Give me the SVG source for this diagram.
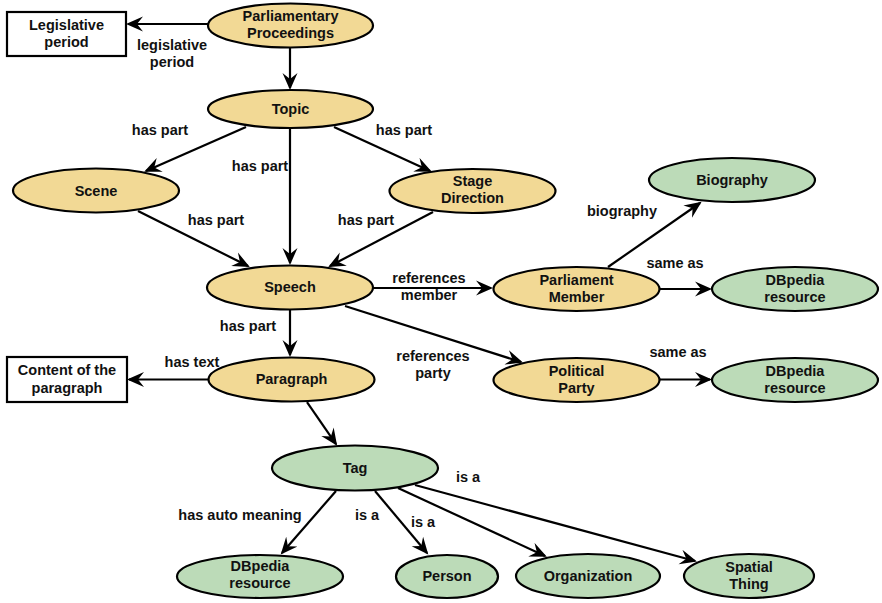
<svg xmlns="http://www.w3.org/2000/svg" width="882" height="603" viewBox="0 0 882 603">
  <style>
    text { font-family: "Liberation Sans", Arial, Helvetica, sans-serif; font-weight: bold; font-size: 14.5px; fill: #111; text-anchor: middle; }
    .doc { fill: #F2D995; stroke: #000; stroke-width: 2.2; }
    .ext { fill: #BCDBB8; stroke: #000; stroke-width: 2.2; }
    .lit { fill: #fff; stroke: #000; stroke-width: 2.2; }
    .edge { fill: none; stroke: #000; stroke-width: 2.2; marker-end: url(#arrow); }
  </style>
  <defs>
    <!-- barbed arrowhead with a notched back -->
    <marker id="arrow" markerUnits="userSpaceOnUse" markerWidth="18" markerHeight="16" refX="15" refY="8" orient="auto">
      <path d="M0,0.5 L17,8 L0,15.5 L6,8 Z" fill="#000"/>
    </marker>
  </defs>
  <rect width="882" height="603" fill="#fff"/>

  <!-- connectors -->
  <g id="edges">
    <line class="edge" x1="208" y1="24" x2="128" y2="24"/>
    <line class="edge" x1="290" y1="48" x2="290" y2="88"/>
    <line class="edge" x1="246" y1="127" x2="146" y2="171"/>
    <line class="edge" x1="334" y1="127" x2="430" y2="171"/>
    <line class="edge" x1="290" y1="128" x2="290" y2="263"/>
    <line class="edge" x1="138" y1="211" x2="248" y2="266"/>
    <line class="edge" x1="433" y1="212" x2="330" y2="266"/>
    <line class="edge" x1="373" y1="288" x2="491" y2="288"/>
    <line class="edge" x1="345" y1="306" x2="521" y2="362"/>
    <line class="edge" x1="608" y1="267" x2="700" y2="203"/>
    <line class="edge" x1="660" y1="289" x2="710" y2="289"/>
    <line class="edge" x1="660" y1="379.5" x2="710" y2="379.5"/>
    <line class="edge" x1="290" y1="309" x2="290" y2="355"/>
    <line class="edge" x1="208" y1="379.5" x2="129" y2="379.5"/>
    <line class="edge" x1="307" y1="402" x2="336" y2="444"/>
    <line class="edge" x1="336" y1="491" x2="282" y2="553"/>
    <line class="edge" x1="375" y1="491" x2="427" y2="553"/>
    <line class="edge" x1="398" y1="488" x2="545" y2="556"/>
    <line class="edge" x1="415" y1="485" x2="695" y2="561"/>
  </g>

  <!-- connector labels -->
  <g id="edge-labels">
    <text x="172" y="50">legislative</text>
    <text x="172" y="67">period</text>
    <text x="160" y="135">has part</text>
    <text x="404" y="135">has part</text>
    <text x="260" y="171">has part</text>
    <text x="216" y="225">has part</text>
    <text x="366" y="225">has part</text>
    <text x="622" y="216">biography</text>
    <text x="675" y="268">same as</text>
    <text x="429" y="283">references</text>
    <text x="429" y="300">member</text>
    <text x="433" y="361">references</text>
    <text x="433" y="378">party</text>
    <text x="678" y="357">same as</text>
    <text x="248" y="331">has part</text>
    <text x="192" y="367">has text</text>
    <text x="240" y="520">has auto meaning</text>
    <text x="367" y="520">is a</text>
    <text x="423" y="527">is a</text>
    <text x="468" y="482">is a</text>
  </g>

  <!-- nodes -->
  <g id="legislative-period">
    <rect class="lit" x="7" y="12" width="119" height="44"/>
    <text x="66.5" y="29.5">Legislative</text>
    <text x="66.5" y="46.5">period</text>
  </g>
  <g id="parliamentary-proceedings">
    <ellipse class="doc" cx="290.5" cy="25.5" rx="82.5" ry="22"/>
    <text x="290.5" y="21">Parliamentary</text>
    <text x="290.5" y="38">Proceedings</text>
  </g>
  <g id="topic">
    <ellipse class="doc" cx="290.5" cy="109" rx="82.5" ry="19"/>
    <text x="290.5" y="114">Topic</text>
  </g>
  <g id="scene">
    <ellipse class="doc" cx="96" cy="190.5" rx="83" ry="22"/>
    <text x="96" y="195.5">Scene</text>
  </g>
  <g id="stage-direction">
    <ellipse class="doc" cx="472.5" cy="191" rx="83" ry="22"/>
    <text x="472.5" y="186">Stage</text>
    <text x="472.5" y="203">Direction</text>
  </g>
  <g id="speech">
    <ellipse class="doc" cx="290" cy="287.5" rx="83" ry="22"/>
    <text x="290" y="292">Speech</text>
  </g>
  <g id="parliament-member">
    <ellipse class="doc" cx="576.5" cy="289" rx="83" ry="22"/>
    <text x="576.5" y="285">Parliament</text>
    <text x="576.5" y="302">Member</text>
  </g>
  <g id="biography">
    <ellipse class="ext" cx="732" cy="180" rx="83" ry="22"/>
    <text x="732" y="185">Biography</text>
  </g>
  <g id="dbpedia-member">
    <ellipse class="ext" cx="795" cy="289" rx="83" ry="22"/>
    <text x="795" y="285">DBpedia</text>
    <text x="795" y="302">resource</text>
  </g>
  <g id="political-party">
    <ellipse class="doc" cx="576.5" cy="380" rx="83" ry="22"/>
    <text x="576.5" y="376">Political</text>
    <text x="576.5" y="393">Party</text>
  </g>
  <g id="dbpedia-party">
    <ellipse class="ext" cx="795" cy="380" rx="83" ry="22"/>
    <text x="795" y="376">DBpedia</text>
    <text x="795" y="393">resource</text>
  </g>
  <g id="paragraph">
    <ellipse class="doc" cx="291.5" cy="379.5" rx="83" ry="22"/>
    <text x="291.5" y="384">Paragraph</text>
  </g>
  <g id="paragraph-content">
    <rect class="lit" x="7" y="357" width="120" height="45"/>
    <text x="67" y="375">Content of the</text>
    <text x="67" y="392.5">paragraph</text>
  </g>
  <g id="tag">
    <ellipse class="ext" cx="355" cy="468" rx="83" ry="22.5"/>
    <text x="355" y="473">Tag</text>
  </g>
  <g id="dbpedia-tag">
    <ellipse class="ext" cx="260" cy="576.5" rx="83" ry="21.5"/>
    <text x="260" y="571">DBpedia</text>
    <text x="260" y="588">resource</text>
  </g>
  <g id="person">
    <ellipse class="ext" cx="447" cy="576.5" rx="51" ry="21.5"/>
    <text x="447" y="581">Person</text>
  </g>
  <g id="organization">
    <ellipse class="ext" cx="588" cy="576" rx="72" ry="22"/>
    <text x="588" y="581">Organization</text>
  </g>
  <g id="spatial-thing">
    <ellipse class="ext" cx="749" cy="576" rx="65" ry="22"/>
    <text x="749" y="571.5">Spatial</text>
    <text x="749" y="589">Thing</text>
  </g>
</svg>
